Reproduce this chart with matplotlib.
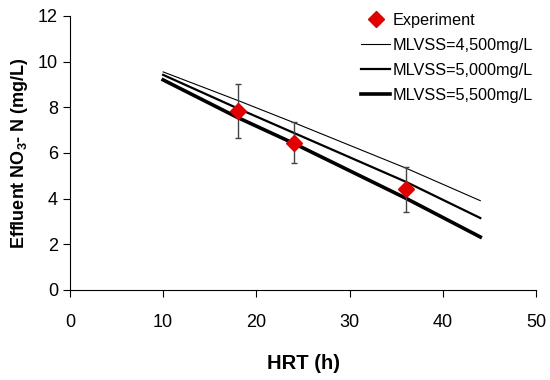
import matplotlib
matplotlib.use('Agg')
import matplotlib.pyplot as plt

plt.rcParams['font.family'] = ['Liberation Sans', 'DejaVu Sans']
plt.rcParams['mathtext.fontset'] = 'custom'
plt.rcParams['mathtext.rm'] = 'Liberation Sans'
plt.rcParams['mathtext.bf'] = 'Liberation Sans:bold'

# experiment data
exp_hrt = [18, 24, 36]
exp_no3 = [7.85, 6.45, 4.4]
exp_err = [1.18, 0.9, 1.0]

# model lines
model_hrt = [10, 18, 24, 36, 44]
no3_4500 = [9.55, 8.3, 7.33, 5.34, 3.91]
no3_5000 = [9.42, 7.95, 6.88, 4.74, 3.15]
no3_5500 = [9.2, 7.55, 6.42, 4.02, 2.32]

fig = plt.figure(figsize=(5.5, 3.8), dpi=100)
ax = fig.add_axes([0.127, 0.237, 0.848, 0.721])

ax.errorbar(exp_hrt, exp_no3, yerr=exp_err, fmt='none', ecolor='#444444',
            elinewidth=1.0, capsize=2.5, capthick=1.0, zorder=3)
ax.plot(exp_hrt, exp_no3, 'D', color='#e00000', markersize=8,
        label='Experiment', zorder=4)
ax.plot(model_hrt, no3_4500, color='black', lw=0.8, label='MLVSS=4,500mg/L')
ax.plot(model_hrt, no3_5000, color='black', lw=1.6, label='MLVSS=5,000mg/L')
ax.plot(model_hrt, no3_5500, color='black', lw=2.6, label='MLVSS=5,500mg/L')

ax.set_xlim(0, 50)
ax.set_ylim(0, 12)
ax.set_xticks(range(0, 51, 10))
ax.set_yticks(range(0, 13, 2))
ax.spines['top'].set_visible(False)
ax.spines['right'].set_visible(False)
ax.tick_params(labelsize=13, direction='out', length=5, width=0.8)
ax.tick_params(axis='x', pad=12)

ax.set_xlabel('HRT (h)', fontsize=14.5, fontweight='bold', labelpad=17)
ax.set_ylabel(r'Effluent NO$_\mathbf{3}$- N (mg/L)', fontsize=13,
              fontweight='bold', labelpad=6)

ax.legend(loc='upper right', bbox_to_anchor=(1.025, 1.065), frameon=False,
          fontsize=11.7, handlelength=1.8, handletextpad=0.15, labelspacing=0.62,
          numpoints=1)

fig.savefig('out.png', dpi=100)
